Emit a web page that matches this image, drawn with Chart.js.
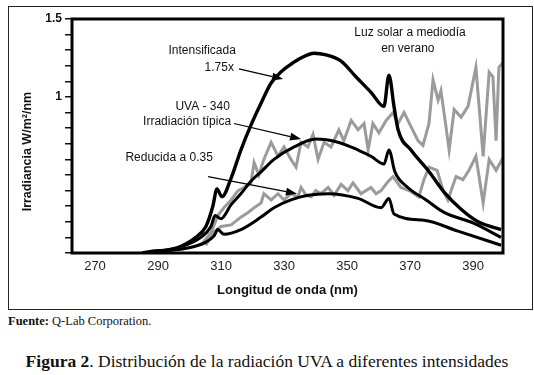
<!DOCTYPE html>
<html>
<head>
<meta charset="utf-8">
<script src="https://cdn.jsdelivr.net/npm/chart.js@4"></script>
<style>
  html, body { margin: 0; padding: 0; background: #fff; }
  body { width: 534px; height: 375px; position: relative; overflow: hidden; }
  #box { position: absolute; left: 8px; top: 6px; width: 523px; height: 302px; border: 1px solid #222; }
  #wrap { position: absolute; left: 0; top: 0; width: 534px; height: 310px; }
  #src { position: absolute; left: 8px; top: 314px; font: 12.5px "Liberation Serif", serif; color: #111; }
  #cap { position: absolute; left: 0; top: 351px; width: 534px; text-align: center; font: 17.5px "Liberation Serif", serif; color: #111; }
</style>
</head>
<body>
<div id="box"></div>
<div id="wrap"><canvas id="uvaChart"></canvas></div>
<div id="src"><b>Fuente:</b> Q-Lab Corporation.</div>
<div id="cap"><b>Figura 2</b>. Distribución de la radiación UVA a diferentes intensidades</div>
<script>
// --- datos (nm, W/m²/nm) ---
const xTicks = [270, 290, 310, 330, 350, 370, 390];
const yTicks = [0, 0.1, 0.2, 0.3, 0.4, 0.5, 0.6, 0.7, 0.8, 0.9, 1.0, 1.1, 1.2, 1.3, 1.4, 1.5];
const yLabeled = [1, 1.5];

// Intensificada 1.75x
const intensWl = [285, 287.8, 295.7, 302.0, 305.2, 307.4, 308.7, 310.3, 313.2, 316.3, 319.5, 322.7, 325.9, 329.0, 332.2, 335.4, 339.5, 343.3, 348.1, 352.8, 357.6, 361.7, 363.3, 364.9, 366.2, 370.3, 375.7, 380.8, 386.2, 391.6, 398.9];
const intensVal = [0, 0.01, 0.03, 0.10, 0.17, 0.30, 0.41, 0.36, 0.48, 0.66, 0.82, 0.96, 1.09, 1.16, 1.21, 1.25, 1.28, 1.27, 1.23, 1.13, 1.03, 0.94, 1.14, 0.94, 0.79, 0.66, 0.53, 0.39, 0.28, 0.20, 0.15];

// UVA-340 irradiación típica
const typicalWl = [285, 289.3, 297.3, 303.6, 306.8, 308.1, 310.0, 313.2, 316.3, 319.5, 322.7, 326.8, 333.2, 340.1, 347.1, 353.5, 357.6, 361.7, 363.3, 365.2, 369.3, 375.1, 380.8, 390.3, 398.9];
const typicalVal = [0, 0.01, 0.04, 0.10, 0.17, 0.24, 0.22, 0.31, 0.38, 0.46, 0.52, 0.60, 0.68, 0.73, 0.71, 0.66, 0.62, 0.57, 0.66, 0.52, 0.42, 0.34, 0.26, 0.19, 0.10];

// Reducida a 0.35
const reducedWl = [286, 290.9, 298.9, 305.2, 307.8, 309.0, 310.9, 316.3, 322.7, 326.8, 332.2, 337.6, 344.0, 353.5, 360.8, 363.3, 364.9, 374.4, 385.2, 398.9];
const reducedVal = [0, 0.01, 0.03, 0.07, 0.11, 0.15, 0.12, 0.15, 0.23, 0.29, 0.34, 0.37, 0.38, 0.35, 0.29, 0.35, 0.25, 0.21, 0.14, 0.05];

// Luz solar (curva gris superior)
const sunHighWl = [303.6, 306.8, 309.0, 310.9, 313.2, 315.4, 317.3, 319.5, 320.5, 322.0, 323.6, 325.9, 328.1, 330.0, 332.2, 333.8, 335.4, 337.6, 339.2, 340.8, 342.7, 344.9, 347.4, 349.0, 351.3, 353.5, 355.4, 356.7, 358.2, 360.1, 362.4, 364.6, 366.2, 368.1, 370.3, 372.5, 374.1, 376.0, 377.3, 378.9, 379.8, 381.4, 382.4, 384.0, 386.2, 388.4, 390.9, 393.2, 395.1, 396.3, 397.3, 398.2, 399.5];
const sunHighVal = [0.05, 0.13, 0.24, 0.29, 0.34, 0.40, 0.42, 0.45, 0.58, 0.50, 0.60, 0.71, 0.62, 0.68, 0.60, 0.55, 0.71, 0.68, 0.76, 0.60, 0.71, 0.68, 0.79, 0.72, 0.85, 0.79, 0.83, 0.66, 0.83, 0.77, 0.85, 0.90, 0.83, 0.90, 0.81, 0.72, 0.69, 0.83, 1.11, 0.98, 1.04, 0.81, 0.66, 0.92, 0.87, 0.94, 1.19, 0.62, 1.16, 1.13, 0.72, 1.19, 1.22];

// Luz solar (curva gris inferior)
const sunLowWl = [305.2, 307.4, 310.0, 313.2, 316.3, 318.6, 320.5, 322.7, 323.6, 325.9, 328.1, 330.0, 332.2, 334.4, 335.4, 337.0, 338.6, 340.1, 341.7, 344.0, 345.9, 348.1, 350.3, 351.9, 354.4, 356.0, 357.6, 359.2, 360.8, 362.7, 364.6, 367.1, 369.7, 372.8, 374.4, 376.0, 378.6, 380.5, 382.0, 384.6, 386.8, 388.7, 390.9, 393.2, 395.1, 397.3, 399.5];
const sunLowVal = [0.05, 0.13, 0.17, 0.18, 0.23, 0.26, 0.29, 0.32, 0.38, 0.34, 0.38, 0.34, 0.38, 0.36, 0.42, 0.37, 0.36, 0.40, 0.38, 0.42, 0.37, 0.44, 0.40, 0.45, 0.38, 0.40, 0.42, 0.38, 0.40, 0.45, 0.49, 0.42, 0.40, 0.36, 0.47, 0.55, 0.53, 0.40, 0.34, 0.49, 0.47, 0.53, 0.62, 0.32, 0.60, 0.53, 0.61];

function toPoints(xs, ys) {
    return xs.map((x, i) => ({ x: x, y: ys[i] }));
}

// textos y flechas, en unidades de datos
const notes = [
    { text: 'Intensificada', x: 314.7, y: 1.30, align: 'right' },
    { text: '1.75x', x: 314.1, y: 1.19, align: 'right' },
    { text: 'UVA - 340', x: 312.8, y: 0.94, align: 'right' },
    { text: 'Irradiación típica', x: 313.2, y: 0.84, align: 'right' },
    { text: 'Reducida a 0.35', x: 307.4, y: 0.61, align: 'right' },
    { text: 'Luz solar a mediodía', x: 370.0, y: 1.41, align: 'center' },
    { text: 'en verano', x: 369.3, y: 1.31, align: 'center' }
];
const arrows = [
    { x1: 315.7, y1: 1.18, x2: 329.7, y2: 1.115 },
    { x1: 314.1, y1: 0.83, x2: 335.4, y2: 0.73 },
    { x1: 305.9, y1: 0.49, x2: 334.1, y2: 0.38 }
];
const yTitle = 'Irradiancia W/m²/nm';

const framePlugin = {
    id: 'frameAndNotes',
    afterDatasetsDraw(chart) {
        const { ctx, chartArea: a, scales: { x, y } } = chart;
        ctx.save();
        ctx.strokeStyle = '#000';
        ctx.lineWidth = 3;
        ctx.strokeRect(a.left, a.top, a.right - a.left, a.bottom - a.top);

        // titulo del eje y (algo mas abajo que el centro, como en el original)
        ctx.save();
        ctx.translate(28, y.getPixelForValue(0.65));
        ctx.rotate(-Math.PI / 2);
        ctx.fillStyle = '#111';
        ctx.font = 'bold 12.5px "Liberation Sans", Arial, sans-serif';
        ctx.textAlign = 'center';
        ctx.textBaseline = 'middle';
        ctx.fillText(yTitle, 0, 0);
        ctx.restore();

        ctx.fillStyle = '#111';
        ctx.font = '12px "Liberation Sans", Arial, sans-serif';
        ctx.textBaseline = 'middle';
        notes.forEach(n => {
            ctx.textAlign = n.align;
            ctx.fillText(n.text, x.getPixelForValue(n.x), y.getPixelForValue(n.y));
        });

        ctx.strokeStyle = '#000';
        ctx.fillStyle = '#000';
        ctx.lineWidth = 1.2;
        arrows.forEach(ar => {
            const px1 = x.getPixelForValue(ar.x1), py1 = y.getPixelForValue(ar.y1);
            const px2 = x.getPixelForValue(ar.x2), py2 = y.getPixelForValue(ar.y2);
            const ang = Math.atan2(py2 - py1, px2 - px1);
            const hl = 11, hw = 4;
            ctx.beginPath();
            ctx.moveTo(px1, py1);
            ctx.lineTo(px2 - hl * Math.cos(ang), py2 - hl * Math.sin(ang));
            ctx.stroke();
            ctx.beginPath();
            ctx.moveTo(px2, py2);
            ctx.lineTo(px2 - hl * Math.cos(ang) + hw * Math.sin(ang), py2 - hl * Math.sin(ang) - hw * Math.cos(ang));
            ctx.lineTo(px2 - hl * Math.cos(ang) - hw * Math.sin(ang), py2 - hl * Math.sin(ang) + hw * Math.cos(ang));
            ctx.closePath();
            ctx.fill();
        });
        ctx.restore();
    }
};

const blackLine = { borderColor: '#000', borderWidth: 3, pointRadius: 0, fill: false, cubicInterpolationMode: 'monotone' };
const grayLine = { borderColor: '#9b9b9b', borderWidth: 3, pointRadius: 0, fill: false, tension: 0 };

new Chart(document.getElementById('uvaChart'), {
    type: 'line',
    data: {
        datasets: [
            { label: 'Intensificada 1.75x', data: toPoints(intensWl, intensVal), ...blackLine, borderWidth: 3.4 },
            { label: 'UVA - 340 Irradiación típica', data: toPoints(typicalWl, typicalVal), ...blackLine },
            { label: 'Reducida a 0.35', data: toPoints(reducedWl, reducedVal), ...blackLine },
            { label: 'Luz solar a mediodía en verano', data: toPoints(sunHighWl, sunHighVal), ...grayLine },
            { label: 'Luz solar (inferior)', data: toPoints(sunLowWl, sunLowVal), ...grayLine }
        ]
    },
    options: {
        responsive: true,
        maintainAspectRatio: false,
        devicePixelRatio: 1,
        animation: false,
        layout: { padding: { top: 19, right: 31, left: 0, bottom: 0 } },
        plugins: { legend: { display: false }, tooltip: { enabled: false } },
        scales: {
            x: {
                type: 'linear',
                min: 262.7,
                max: 399.5,
                afterBuildTicks: s => { s.ticks = xTicks.map(v => ({ value: v })); },
                afterFit: s => { s.height = 57; },
                grid: { display: false, drawTicks: false },
                border: { display: false },
                ticks: { color: '#222', font: { family: '"Liberation Sans", Arial, sans-serif', size: 13 }, padding: 6, maxRotation: 0, autoSkip: false },
                title: { display: true, text: 'Longitud de onda (nm)', color: '#111', font: { family: '"Liberation Sans", Arial, sans-serif', size: 13, weight: 'bold' }, padding: { top: 0, bottom: 12 } }
            },
            y: {
                min: 0,
                max: 1.5,
                afterBuildTicks: s => { s.ticks = yTicks.map(v => ({ value: v })); },
                afterFit: s => { s.width = 72; },
                grid: { drawOnChartArea: false, tickLength: 7, color: '#111', lineWidth: 1.5 },
                border: { display: false },
                ticks: {
                    color: '#111',
                    padding: 3,
                    autoSkip: false,
                    font: { family: '"Liberation Sans", Arial, sans-serif', size: 12, weight: 'bold' },
                    callback: v => (yLabeled.some(t => Math.abs(t - v) < 1e-6) ? String(v) : '')
                }
            }
        }
    },
    plugins: [framePlugin]
});
</script>
</body>
</html>
